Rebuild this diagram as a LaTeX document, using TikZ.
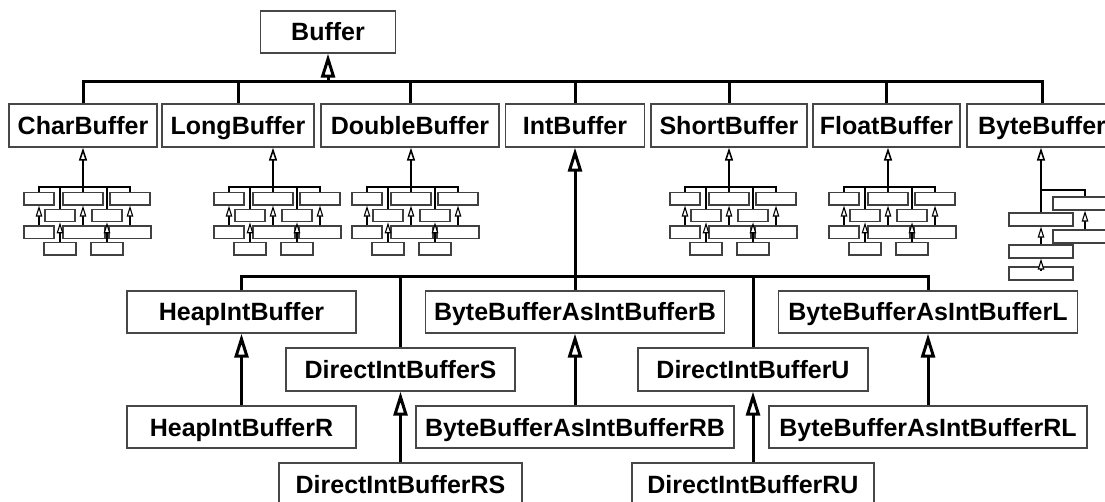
\documentclass[tikz,border=0pt]{standalone}
\usepackage{fontspec}
\setmainfont{Liberation Sans}
\usetikzlibrary{arrows.meta}

\tikzset{
  cls/.style={draw=black!72, line width=1.3pt, fill=white, inner sep=0pt,
    font=\bfseries\fontsize{25}{30}\selectfont, text height=18pt, text depth=0pt},
  mini/.style={draw=black!75, line width=1.15pt, fill=white, inner sep=0pt,
    minimum height=12.5pt},
  link/.style={line width=3pt},
  gen/.style={line width=3pt, -{Triangle[width=14pt, length=24pt, fill=white]}},
  subgen/.style={line width=1.6pt, -{Triangle[width=8pt, length=13pt, fill=white]}},
  minilink/.style={line width=1.1pt},
  minigen/.style={line width=1.1pt, -{Triangle[width=6.5pt, length=11pt, fill=white]}},
}

% Small, text-free copy of a subclass tree: #1 name prefix, #2 x of its root, #3 parent node
\newcommand\minitree[3]{%
  \coordinate (#1-bar) at (#2,187);
  \node[mini, minimum width=30pt] (#1-a1) at ({#2-44},198.75) {};
  \node[mini, minimum width=40pt] (#1-a2) at ({#2},198.75) {};
  \node[mini, minimum width=40pt] (#1-a3) at ({#2+47},198.75) {};
  \node[mini, minimum width=30pt] (#1-b1) at ({#2-23},215.5) {};
  \node[mini, minimum width=30pt] (#1-b2) at ({#2+24},215.5) {};
  \node[mini, minimum width=30pt] (#1-c1) at ({#2-44},232.25) {};
  \node[mini, minimum width=42pt] (#1-c2) at ({#2+1},232.25) {};
  \node[mini, minimum width=42pt] (#1-c3) at ({#2+47},232.25) {};
  \node[mini, minimum width=32pt] (#1-d1) at ({#2-23},248.75) {};
  \node[mini, minimum width=32pt] (#1-d2) at ({#2+24},248.75) {};
  \draw[minilink] (#1-a1.north) |- (#1-bar) -| (#1-a3.north);
  \draw[minilink] (#1-b1.north) -- (#1-b1.north |- #1-bar);
  \draw[minilink] (#1-b2.north) -- (#1-b2.north |- #1-bar);
  \draw[subgen] (#1-a2.north) -- (#1-a2.north |- #3.south);
  \draw[minigen] (#1-c1.north) -- (#1-a1.south);
  \draw[minigen] (#1-c2.north -| #1-a2.south) -- (#1-a2.south);
  \draw[minigen] (#1-c3.north) -- (#1-a3.south);
  \draw[minigen] (#1-d1.north) -- (#1-b1.south);
  \draw[minigen] (#1-d2.north) -- (#1-b2.south);
}

\begin{document}
\begin{tikzpicture}[x=1pt, y=-1pt]
\useasboundingbox (0,0) rectangle (1105,502);
\clip (0,0) rectangle (1105,502);

% root
\node[cls, minimum width=135pt, minimum height=42pt] (buffer) at (328,32) {Buffer};

% direct subclasses of Buffer
\node[cls, minimum width=148pt, minimum height=43pt] (char)   at (83,125.5)   {CharBuffer};
\node[cls, minimum width=152pt, minimum height=43pt] (long)   at (238,125.5)  {LongBuffer};
\node[cls, minimum width=178pt, minimum height=43pt] (double) at (410,125.5)  {DoubleBuffer};
\node[cls, minimum width=139pt, minimum height=43pt] (int)    at (575,125.5)  {IntBuffer};
\node[cls, minimum width=156pt, minimum height=43pt] (short)  at (729,125.5)  {ShortBuffer};
\node[cls, minimum width=147pt, minimum height=43pt] (float)  at (886.5,125.5){FloatBuffer};
\node[cls, minimum width=150pt, minimum height=43pt] (byte)   at (1042,125.5) {ByteBuffer};

\coordinate (topbar) at (328,82);
\draw[link] (char.north) |- (topbar) -| (byte.north);
\foreach \n in {long,double,int,short,float}
  \draw[link] (\n.north) -- (\n.north |- topbar);
\draw[gen] (topbar) -- (buffer.south);

% IntBuffer subtree
\node[cls, minimum width=229pt, minimum height=42pt] (heap) at (241.5,312) {HeapIntBuffer};
\node[cls, minimum width=299pt, minimum height=42pt] (bb)   at (575,312)   {ByteBufferAsIntBufferB};
\node[cls, minimum width=299pt, minimum height=42pt] (bl)   at (928,312)   {ByteBufferAsIntBufferL};
\node[cls, minimum width=229pt, minimum height=43pt] (dirs) at (400.5,369.5) {DirectIntBufferS};
\node[cls, minimum width=230pt, minimum height=43pt] (diru) at (753,369.5)   {DirectIntBufferU};
\node[cls, minimum width=229pt, minimum height=42pt] (hr)   at (241.5,427) {HeapIntBufferR};
\node[cls, minimum width=318pt, minimum height=42pt] (rb)   at (575,427)   {ByteBufferAsIntBufferRB};
\node[cls, minimum width=318pt, minimum height=42pt] (rl)   at (928,427)   {ByteBufferAsIntBufferRL};
\node[cls, minimum width=243pt, minimum height=42pt] (rs)   at (400.5,484) {DirectIntBufferRS};
\node[cls, minimum width=242pt, minimum height=42pt] (ru)   at (753,484)   {DirectIntBufferRU};

\coordinate (intbar) at (575,277);
\draw[link] (heap.north) |- (intbar) -| (bl.north);
\draw[link] (dirs.north) -- (dirs.north |- intbar);
\draw[link] (diru.north) -- (diru.north |- intbar);
\draw[gen] (bb.north) -- (int.south);
\draw[gen] (hr.north) -- (heap.south);
\draw[gen] (rs.north) -- (dirs.south);
\draw[gen] (rb.north) -- (bb.south);
\draw[gen] (ru.north) -- (diru.south);
\draw[gen] (rl.north) -- (bl.south);

% the other typed buffers, drawn small
\minitree{c}{83}{char}
\minitree{l}{273}{long}
\minitree{d}{411}{double}
\minitree{s}{729}{short}
\minitree{f}{888}{float}

% ByteBuffer subtree, drawn small
\node[mini, minimum width=64pt, minimum height=13pt] (e1) at (1041,219.5) {};
\node[mini, minimum width=64pt, minimum height=13pt] (e2) at (1041,251.5) {};
\node[mini, minimum width=64pt, minimum height=13pt] (e3) at (1041,273.5) {};
\node[mini, minimum width=64pt, minimum height=13pt] (f1) at (1085,203.5) {};
\node[mini, minimum width=64pt, minimum height=13pt] (f2) at (1085,236.5) {};
\coordinate (bsplit) at (1041,190);
\draw[subgen] (e1.north) -- (e1.north |- byte.south);
\draw[minilink] (bsplit) -| (f1.north);
\draw[minigen] (e2.north) -- (e1.south);
\draw[minigen] (f2.north) -- (f1.south);
\draw[minigen] ([yshift=-5pt]e3.north) -- (e2.south);
\end{tikzpicture}
\end{document}
